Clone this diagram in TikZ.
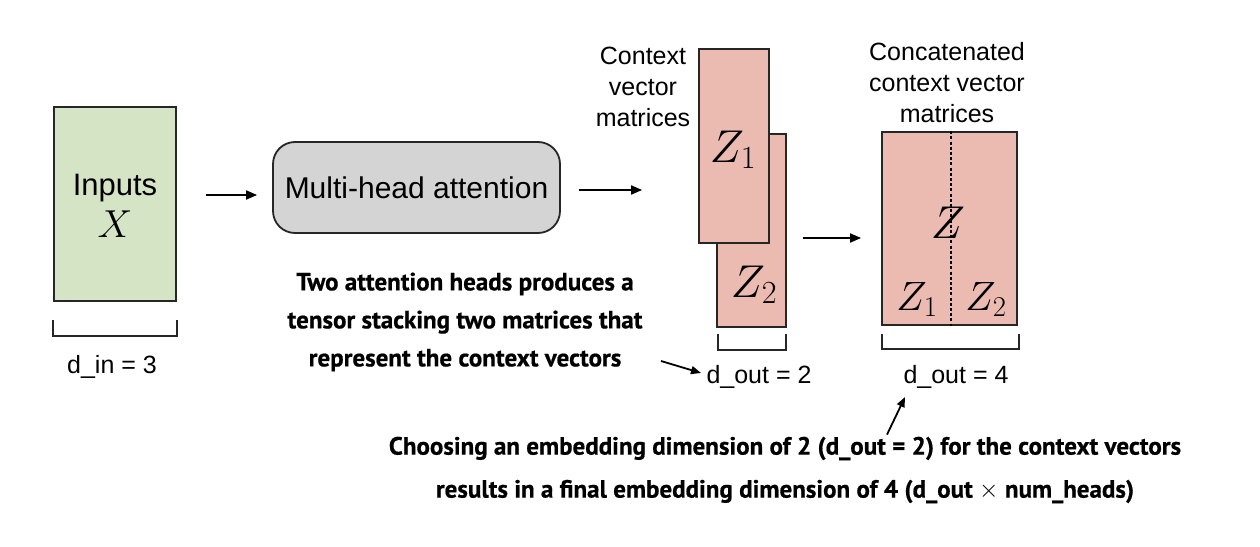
\RequirePackage{fix-cm}
\documentclass[tikz,border=0pt]{standalone}
\usepackage[no-math]{fontspec}
\setmainfont{Liberation Sans}
\newfontfamily\notefont{PT Sans}[BoldFeatures={FakeBold=0.6}]
\usetikzlibrary{calc,arrows.meta}
\definecolor{ingreen}{HTML}{D5E4C5}
\definecolor{zpink}{HTML}{EBBAB0}
\definecolor{mhgray}{HTML}{D4D4D4}
\tikzset{
  box/.style={draw=black!85, line width=1.8pt, inner sep=0pt},
  lbl/.style={font=\fontsize{25}{31}\selectfont, align=center, inner sep=1pt},
  big/.style={font=\fontsize{30}{34}\selectfont, inner sep=0pt},
  note/.style={font=\notefont\bfseries\fontsize{25}{38}\selectfont, align=center, inner sep=0pt},
  zlab/.style={font=\fontsize{46}{46}\selectfont, inner sep=0pt, anchor=base},
  zsmall/.style={font=\fontsize{41}{41}\selectfont, inner sep=0pt, anchor=base},
  arr/.style={line width=1.8pt, -{Triangle[length=11pt,width=9pt]}},
  brk/.style={line width=1.8pt, draw=black!85},
}
\begin{document}
\begin{tikzpicture}[x=1pt,y=-1pt]
\path[use as bounding box, fill=white] (0,0) rectangle (1260,546);
% input
\node[box, fill=ingreen, minimum width=122pt, minimum height=194pt] (inp) at (115,204) {};
\node[big, font=\fontsize{31}{34}\selectfont, anchor=base] (inpt) at (115,195) {Inputs};
\node[font=\fontsize{39}{39}\selectfont, inner sep=0pt, anchor=base] (xl) at (115,237) {$X$};
\draw[brk] ($(inp.south west)+(0,18)$) -- ++(0,16) -| ($(inp.south east)+(0,18)$);
\node[lbl, anchor=base] (din) at (112,373) {d\_in = 3};
% multi-head
\node[box, fill=mhgray, rounded corners=22pt, minimum width=287pt, minimum height=91pt, big] (mha) at (416.5,187.5) {Multi-head attention};
% context matrices
\node[box, fill=zpink, minimum width=69pt, minimum height=193pt] (z2) at (751.5,230.5) {};
\node[box, fill=zpink, minimum width=70pt, minimum height=194pt] (z1) at (734,146) {};
\node[zlab] (z1t) at (733,162) {$Z_1$};
\node[zlab] (z2t) at (754,297) {$Z_2$};
\node[lbl] (ctx) at (643,87) {Context\\vector\\matrices};
\draw[brk] ($(z2.south west)+(2,6)$) -- ++(0,16) -| ($(z2.south east)+(-1,6)$);
\node[lbl, anchor=base] (dout2) at (759,383) {d\_out = 2};
% concatenated
\node[box, fill=zpink, minimum width=135pt, minimum height=193pt] (z) at (949.5,228.5) {};
\draw[line width=1.6pt, dash pattern=on 3pt off 2.2pt] ($(z.north)+(1.5,0)$) -- ($(z.south)+(1.5,0)$);
\node[zlab] (zt) at (948,238) {$Z$};
\node[zsmall] (zc1) at (917,310) {$Z_1$};
\node[zsmall] (zc2) at (986,310) {$Z_2$};
\node[lbl] (cat) at (947,83) {Concatenated\\context vector\\matrices};
\draw[brk] ($(z.south west)+(1,8)$) -- ++(0,15) -| ($(z.south east)+(1,8)$);
\node[lbl, anchor=base] (dout4) at (956,383) {d\_out = 4};
% arrows
\draw[arr] ($(inp.east)+(29,-9)$) -- ($(mha.west)+(-15,7.5)$);
\draw[arr] ($(mha.east)+(18,2.5)$) -- ($(z1.west |- mha.east)+(-56,2.5)$);
\draw[arr] ($(z2.east)+(16,7.5)$) -- ($(z.west)+(-20,9.5)$);
% notes
\node[note] (n1) at (465,322) {Two attention heads produces a\\tensor stacking two matrices that\\represent the context vectors};
\node[note, font=\notefont\bfseries\fontsize{25}{43}\selectfont] (n2) at (785,470) {Choosing an embedding dimension of 2 (d\_out = 2) for the context vectors\\results in a final embedding dimension of 4 (d\_out $\times$ num\_heads)};
\coordinate (e1) at (701,373);
\draw[line width=1.8pt, -{Triangle[length=10pt,width=8pt]}] (661,361) coordinate (s1) -- (e1);
\coordinate (e2) at (905,397);
\draw[line width=1.8pt, -{Triangle[length=10pt,width=8pt]}] ($(n2.north)+(102,-2)$) coordinate (s2) -- (e2);
\end{tikzpicture}
\end{document}
